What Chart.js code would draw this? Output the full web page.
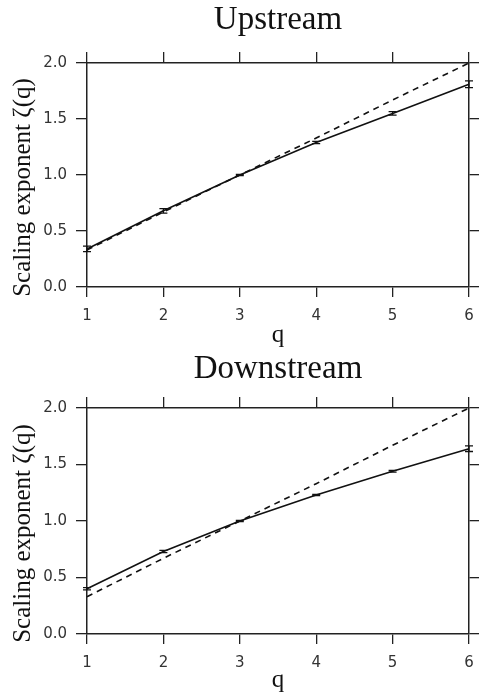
<!DOCTYPE html>
<html><head><meta charset="utf-8">
<script src="https://cdn.jsdelivr.net/npm/chart.js@4.4.1/dist/chart.umd.min.js"></script>
<style>
html,body{margin:0;padding:0;background:#fff;}
#w1{position:absolute;left:0;top:0;width:479px;height:352px;}
#w2{position:absolute;left:0;top:352px;width:479px;height:346px;}
</style></head><body>
<div id="w1"><canvas id="c1"></canvas></div>
<div id="w2"><canvas id="c2"></canvas></div>
<script>
const qValues = [1, 2, 3, 4, 5, 6];
const xTicks = [1, 2, 3, 4, 5, 6];
const yTicks = [0, 0.5, 1.0, 1.5, 2.0];
const upstreamZeta = [0.34, 0.68, 1.00, 1.29, 1.55, 1.81];
const upstreamErr = [0.025, 0.02, 0.005, 0.01, 0.015, 0.03];
const downstreamZeta = [0.40, 0.73, 1.00, 1.23, 1.44, 1.64];
const downstreamErr = [0.01, 0.01, 0.005, 0.005, 0.008, 0.025];
const k41Line = [0.33, 0.67, 1.00, 1.33, 1.67, 2.00];

const INK = '#111';
const FRAME = '#222';

const errorBars = {
  id: 'errorBars',
  afterDatasetsDraw(chart) {
    const ds = chart.data.datasets[0];
    const err = ds.errors;
    if (!err) return;
    const xs = chart.scales.x, ys = chart.scales.y;
    const ctx = chart.ctx;
    ctx.save();
    ctx.strokeStyle = INK;
    ctx.lineWidth = 1.3;
    ds.data.forEach((p, i) => {
      const x = xs.getPixelForValue(p.x);
      const yt = ys.getPixelForValue(p.y + err[i]);
      const yb = ys.getPixelForValue(p.y - err[i]);
      ctx.beginPath();
      ctx.moveTo(x, yt); ctx.lineTo(x, yb);
      ctx.moveTo(x - 4, yt); ctx.lineTo(x + 4, yt);
      ctx.moveTo(x - 4, yb); ctx.lineTo(x + 4, yb);
      ctx.stroke();
    });
    ctx.restore();
  }
};

function tickSetter(arr) {
  return s => { s.ticks = arr.map(v => ({ value: v })); };
}

function noPad(s) {
  s.paddingLeft = 0; s.paddingRight = 0; s.paddingTop = 0; s.paddingBottom = 0;
}

function makeChart(id, title, zeta, err, L) {
  const gridCommon = { drawOnChartArea: false, color: FRAME, lineWidth: 1.3 };
  const borderCommon = { color: FRAME, width: 1.5 };
  return new Chart(document.getElementById(id), {
    type: 'line',
    data: {
      datasets: [
        { data: qValues.map((q, i) => ({ x: q, y: zeta[i] })), errors: err,
          borderColor: INK, borderWidth: 1.6, pointRadius: 0, tension: 0, clip: false },
        { data: qValues.map((q, i) => ({ x: q, y: k41Line[i] })),
          borderColor: INK, borderWidth: 1.6, borderDash: [6, 5], pointRadius: 0, tension: 0, clip: false }
      ]
    },
    options: {
      responsive: true, maintainAspectRatio: false, animation: false,
      layout: { padding: 0 },
      plugins: { legend: { display: false }, tooltip: { enabled: false }, title: { display: false } },
      scales: {
        x: {
          type: 'linear', position: 'bottom', min: 1, max: 6,
          afterBuildTicks: tickSetter(xTicks),
          grid: Object.assign({ tickLength: 10 }, gridCommon),
          border: borderCommon,
          ticks: { padding: 10, font: { family: 'DejaVu Sans', size: 15 }, color: '#333', maxRotation: 0, autoSkip: false },
          title: { display: true, text: 'q', color: INK,
                   font: { family: 'Liberation Serif', size: 25, lineHeight: 1 },
                   padding: { top: 0, bottom: L.qPad } },
          afterFit: s => { s.height = L.bottomH; noPad(s); }
        },
        x2: {
          type: 'linear', position: 'top', min: 1, max: 6,
          afterBuildTicks: tickSetter(xTicks),
          grid: Object.assign({ tickLength: 11 }, gridCommon),
          border: borderCommon,
          ticks: { display: false },
          title: { display: true, text: title, color: INK,
                   font: { family: 'Liberation Serif', size: 33, lineHeight: 1 },
                   padding: { top: L.titlePad, bottom: 0 } },
          afterFit: s => { s.height = L.topH; noPad(s); }
        },
        y: {
          type: 'linear', position: 'left', min: 0, max: 2,
          afterBuildTicks: tickSetter(yTicks),
          grid: Object.assign({ tickLength: 11 }, gridCommon),
          border: borderCommon,
          ticks: { padding: 9, font: { family: 'DejaVu Sans', size: 15 }, color: '#333',
                   callback: v => Number(v).toFixed(1) },
          title: { display: true, text: 'Scaling exponent ζ(q)    ', color: INK,
                   font: { family: 'Liberation Serif', size: 25, lineHeight: 1 },
                   padding: { top: 11, bottom: 0 } },
          afterFit: s => { s.width = 87; noPad(s); }
        },
        y2: {
          type: 'linear', position: 'right', min: 0, max: 2,
          afterBuildTicks: tickSetter(yTicks),
          grid: Object.assign({ tickLength: 10 }, gridCommon),
          border: borderCommon,
          ticks: { display: false },
          afterFit: s => { s.width = 10; noPad(s); }
        }
      }
    },
    plugins: [errorBars]
  });
}

makeChart('c1', 'Upstream', upstreamZeta, upstreamErr, { topH: 63, bottomH: 65, titlePad: 4, qPad: 4.5 });
makeChart('c2', 'Downstream', downstreamZeta, downstreamErr, { topH: 56, bottomH: 64, titlePad: 0.5, qPad: 5.5 });
</script>
</body></html>
